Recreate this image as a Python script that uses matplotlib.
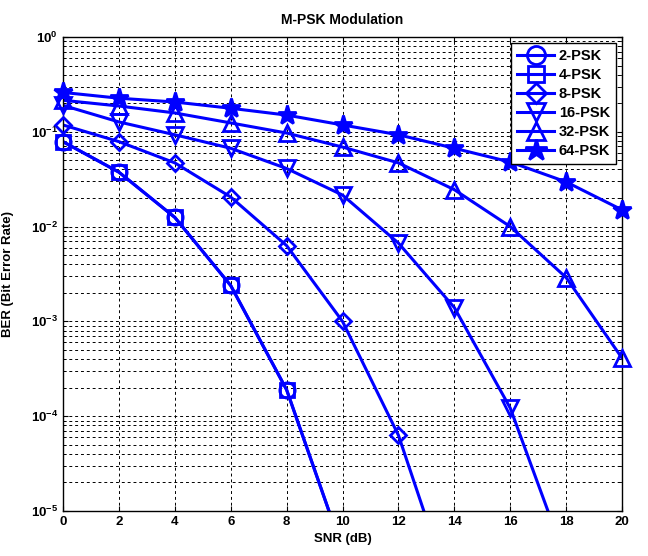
import numpy as np
import matplotlib.pyplot as plt
from matplotlib.ticker import LogLocator, FuncFormatter, NullFormatter
from matplotlib.lines import Line2D

snr = [0, 2, 4, 6, 8, 10, 12, 14, 16, 18, 20]

ber_2psk = [0.0786, 0.0375, 0.0125, 0.00239, 1.9e-4, 3.9e-6, 9e-9, 1e-11, 1e-14, 1e-17, 1e-20]
ber_4psk = [0.0786, 0.0375, 0.0125, 0.00239, 1.9e-4, 3.9e-6, 9e-9, 1e-11, 1e-14, 1e-17, 1e-20]
ber_8psk = [0.118, 0.0787, 0.047, 0.0205, 0.0063, 1.0e-3, 6.3e-5, 1.1e-6, 5e-9, 1e-11, 1e-14]
ber_16psk = [0.19, 0.127, 0.093, 0.067, 0.041, 0.0215, 0.0067, 0.0014, 1.22e-4, 3e-6, 1e-8]
ber_32psk = [0.215, 0.187, 0.158, 0.124, 0.097, 0.069, 0.047, 0.0245, 0.01, 0.0029, 4.1e-4]
ber_64psk = [0.26, 0.226, 0.206, 0.177, 0.15, 0.118, 0.093, 0.067, 0.048, 0.0296, 0.015]

labels = ["2-PSK", "4-PSK", "8-PSK", "16-PSK", "32-PSK", "64-PSK"]
markers = ["o", "s", "D", "v", "^", "*"]
sizes = [11, 10, 8.5, 11, 11, 14]

plt.rcParams.update({
    "font.family": "Liberation Sans",
    "font.weight": "bold",
    "mathtext.fontset": "custom",
    "mathtext.rm": "Liberation Sans:bold",
    "mathtext.bf": "Liberation Sans:bold",
    "mathtext.it": "Liberation Sans:bold",
})

blue = "#0000ff"
fig = plt.figure(figsize=(6.48, 5.56), dpi=100)
ax = fig.add_axes([0.0972, 0.081, 0.8627, 0.8525])

ymin, ymax = 1e-5, 1
series = [ber_2psk, ber_4psk, ber_8psk, ber_16psk, ber_32psk, ber_64psk]
handles = []
for ber, lab, m, ms in zip(series, labels, markers, sizes):
    x = np.array(snr)
    y = np.array(ber)
    face = blue if m == "*" else "none"
    ax.semilogy(x, y, color=blue, lw=2.2)
    vis = y >= ymin
    ax.plot(x[vis], y[vis], ls="none", marker=m, ms=ms, mfc=face,
            mec=blue, mew=2, clip_on=False, zorder=3)
    handles.append(Line2D([], [], color=blue, lw=2.2, marker=m, ms=ms + 2,
                          mfc=face, mec=blue, mew=2, label=lab))

ax.set_xlim(0, 20)
ax.set_ylim(ymin, ymax)
ax.set_xticks(snr)
ax.yaxis.set_major_locator(LogLocator(base=10, numticks=10))
ax.yaxis.set_minor_locator(LogLocator(base=10, subs=np.arange(2, 10), numticks=20))
ax.yaxis.set_minor_formatter(NullFormatter())
ax.yaxis.set_major_formatter(FuncFormatter(lambda v, p: r"$10^{%d}$" % round(np.log10(v))))

ax.tick_params(which="both", direction="in", top=True, right=True, labelsize=9.5)
ax.tick_params(which="minor", length=2)
ax.grid(which="major", color="black", ls=(0, (3, 3)), lw=0.7)
ax.grid(which="minor", axis="y", color="black", ls=(0, (3, 3)), lw=0.7)
for s in ax.spines.values():
    s.set_linewidth(1.0)

ax.set_title("M-PSK Modulation", fontsize=10, fontweight="bold", pad=9)
ax.set_xlabel("SNR (dB)", fontsize=9.5, fontweight="bold", labelpad=4)
ax.set_ylabel("BER (Bit Error Rate)", fontsize=9.5, fontweight="bold", labelpad=12)

leg = ax.legend(handles=handles, loc="upper right", fontsize=10.5, handlelength=2.6,
                labelspacing=0.35, borderaxespad=0.4, fancybox=False, framealpha=1,
                edgecolor="black", handletextpad=0.3, borderpad=0.4)
leg.get_frame().set_linewidth(1.0)
leg.set_zorder(5)

plt.savefig("out.png", dpi=100)
